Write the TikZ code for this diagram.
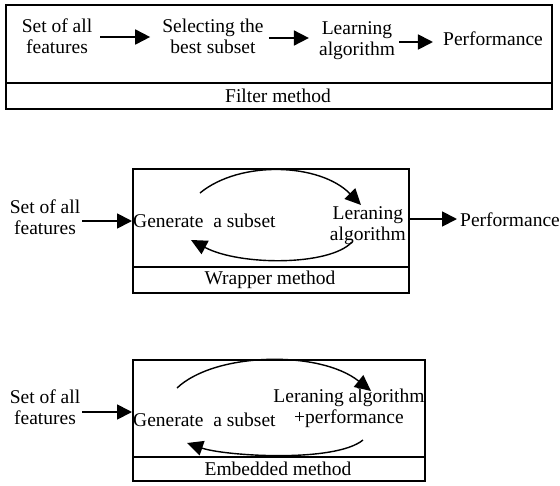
\documentclass[tikz,border=0pt]{standalone}
\usepackage{fontspec}
\setmainfont{Liberation Serif}
\usetikzlibrary{arrows.meta}
\begin{document}
\begin{tikzpicture}[x=1pt,y=-1pt,
  every node/.style={inner sep=0pt, font=\fontsize{19.5}{21}\selectfont},
  txt/.style={align=center},
  txtb/.style={align=center, font=\fontsize{19.5}{21}\selectfont},
  frame/.style={draw, line width=1.6pt, inner sep=0pt},
  straightarr/.style={line width=1.8pt, -{Triangle[length=15pt,width=15pt]}},
  curvearr/.style={line width=1.4pt, -{Triangle[length=16pt,width=15pt]}}]
\useasboundingbox (0,0) rectangle (560,485);

% ---------- filter method ----------
\node[frame, anchor=north west, minimum width=546pt, minimum height=104pt] (fbox) at (5,4) {};
\draw[line width=1.6pt] (fbox.west |- 0,83) coordinate (fdl) -- (fbox.east |- 0,83) coordinate (fdr);
\node (flabel) at (278,96) {Filter method};
\node[txt] (fset) at (57,36) {Set of all\\features};
\node[txt] (fsel) at (213,36) {Selecting the\\best subset};
\node[txt] (flearn) at (357,41) {Learning\\algorithm};
\node (fperf) at (493,39) {Performance};
\draw[straightarr, shorten <=8pt, shorten >=12pt] ([yshift=-1pt]fset.east) -- ([yshift=-1pt]fset.east -| fsel.west);
\draw[straightarr, shorten <=5pt, shorten >=10pt] ([yshift=-2pt]fsel.east) -- ([yshift=-2pt]fsel.east -| flearn.west);
\draw[straightarr, shorten <=4pt, shorten >=10pt] ([yshift=-1pt]flearn.east) -- ([yshift=-1pt]flearn.east -| fperf.west);

% ---------- wrapper method ----------
\node[frame, anchor=north west, minimum width=276pt, minimum height=124pt] (wbox) at (132,168) {};
\draw[line width=1.6pt] (wbox.west |- 0,267) -- (wbox.east |- 0,267);
\node (wlabel) at (270,280) {Wrapper method};
\node[txt] (wset) at (45,217) {Set of all\\features};
\node[anchor=west] (wgen) at (133,221) {Generate\ \ a subset};
\node[txtb, anchor=east] (wlearn) at (406,226) {Leraning\\algorithm};
\node[anchor=west] (wperf) at (460,220) {Performance};
\coordinate (win) at (82,221);
\draw[straightarr] (win) -- (win -| wbox.west);
\draw[straightarr] (wbox.east |- 0,219) -- ([xshift=-3pt]wperf.west |- 0,219);
\coordinate (wt1) at (200,193);
\coordinate (wt2) at (361,205);
\coordinate (wb1) at (352,242);
\coordinate (wb2) at (191,240);
\draw[curvearr] (wt1) .. controls (240,160) and (320,163) .. (wt2);
\draw[curvearr] (wb1) .. controls (330,266) and (240,266) .. (wb2);

% ---------- embedded method ----------
\node[frame, anchor=north west, minimum width=292pt, minimum height=121pt] (ebox) at (132,359) {};
\draw[line width=1.6pt] (ebox.west |- 0,457) -- (ebox.east |- 0,457);
\node (elabel) at (278,469) {Embedded method};
\node[txt] (eset) at (45,407) {Set of all\\features};
\node[anchor=west] (egen) at (133,420) {Generate\ \ a subset};
\node[txtb] (elearn) at (349,408) {Leraning algorithm\\+performance};
\coordinate (ein) at (82,412);
\draw[straightarr] (ein) -- (ein -| ebox.west);
\coordinate (et1) at (177,388);
\coordinate (et2) at (371,391);
\coordinate (eb1) at (363,440);
\coordinate (eb2) at (187,443);
\draw[curvearr] (et1) .. controls (215,352) and (320,350) .. (et2);
\draw[curvearr] (eb1) .. controls (335,463) and (225,456) .. (eb2);
\end{tikzpicture}
\end{document}
